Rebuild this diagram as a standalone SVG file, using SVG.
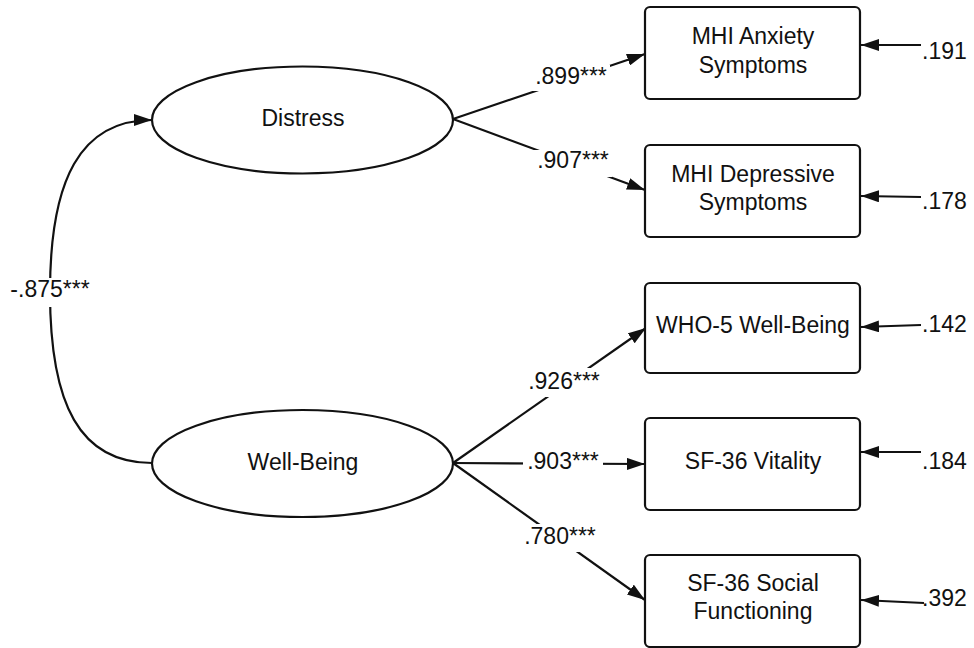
<svg xmlns="http://www.w3.org/2000/svg" width="974" height="648" viewBox="0 0 974 648">
<defs>
<style>
.t{font-family:"Liberation Sans",Arial,sans-serif;font-size:23px;fill:#111;}
.m{text-anchor:middle;}
.node{fill:#fff;stroke:#111;stroke-width:2.2;}
.c{fill:none;stroke:#111;stroke-width:2.2;marker-end:url(#ah);}
.bg{fill:#fff;stroke:none;}
</style>
<marker id="ah" markerUnits="userSpaceOnUse" markerWidth="18" markerHeight="12" refX="18" refY="6" orient="auto" viewBox="0 0 18 12">
<path d="M0,0 L18,6 L0,12 z" fill="#111"/>
</marker>
</defs>
<rect width="974" height="648" fill="#fff"/>

<g id="connectors">
<path class="c" d="M152,463 C80,463 50,405 50,292 C50,180 80,120 152,120"/>
<path class="c" d="M453,119 L645,54"/>
<path class="c" d="M453,119 L645,190"/>
<path class="c" d="M453,463 L646,328"/>
<path class="c" d="M453,463 L645,464"/>
<path class="c" d="M453,463 L645,600"/>
<path class="c" d="M921,45 L861,45"/>
<path class="c" d="M921,197 L861,196"/>
<path class="c" d="M921,325 L861,327"/>
<path class="c" d="M921,452 L861,452"/>
<path class="c" d="M924,603 L861,600"/>

<rect class="bg" x="6" y="278" width="88" height="29"/>
<text class="t m" x="50" y="297">-.875***</text>
<rect class="bg" x="532" y="65" width="78" height="26"/>
<text class="t m" x="571" y="84">.899***</text>
<rect class="bg" x="533" y="150" width="79" height="27"/>
<text class="t m" x="573" y="168">.907***</text>
<rect class="bg" x="526" y="368" width="78" height="29"/>
<text class="t m" x="564" y="389">.926***</text>
<rect class="bg" x="523" y="450" width="80" height="27"/>
<text class="t m" x="563" y="469">.903***</text>
<rect class="bg" x="520" y="524" width="80" height="28"/>
<text class="t m" x="560" y="544">.780***</text>

<text class="t" x="922" y="59">.191</text>
<text class="t" x="922" y="209">.178</text>
<text class="t" x="922" y="332">.142</text>
<text class="t" x="922" y="469">.184</text>
<text class="t" x="922" y="606">.392</text>
</g>

<g id="distress">
<ellipse class="node" cx="302.5" cy="120" rx="150.5" ry="53.5"/>
<text class="t m" x="303" y="126">Distress</text>
</g>
<g id="wellbeing">
<ellipse class="node" cx="302.5" cy="463.5" rx="150.5" ry="53.5"/>
<text class="t m" x="303" y="470">Well-Being</text>
</g>

<g id="mhi-anxiety">
<rect class="node" x="645" y="7" width="215" height="92" rx="5"/>
<text class="t m" x="753" y="44">MHI Anxiety</text>
<text class="t m" x="753" y="73">Symptoms</text>
</g>
<g id="mhi-depressive">
<rect class="node" x="645" y="145" width="215" height="92" rx="5"/>
<text class="t m" x="753" y="182">MHI Depressive</text>
<text class="t m" x="753" y="210">Symptoms</text>
</g>
<g id="who5">
<rect class="node" x="645" y="283" width="215" height="90" rx="5"/>
<text class="t m" x="753" y="333">WHO-5 Well-Being</text>
</g>
<g id="sf36-vitality">
<rect class="node" x="645" y="418" width="215" height="92" rx="5"/>
<text class="t m" x="753" y="469">SF-36 Vitality</text>
</g>
<g id="sf36-social">
<rect class="node" x="645" y="555" width="215" height="92" rx="5"/>
<text class="t m" x="753" y="591">SF-36 Social</text>
<text class="t m" x="753" y="619">Functioning</text>
</g>
</svg>
